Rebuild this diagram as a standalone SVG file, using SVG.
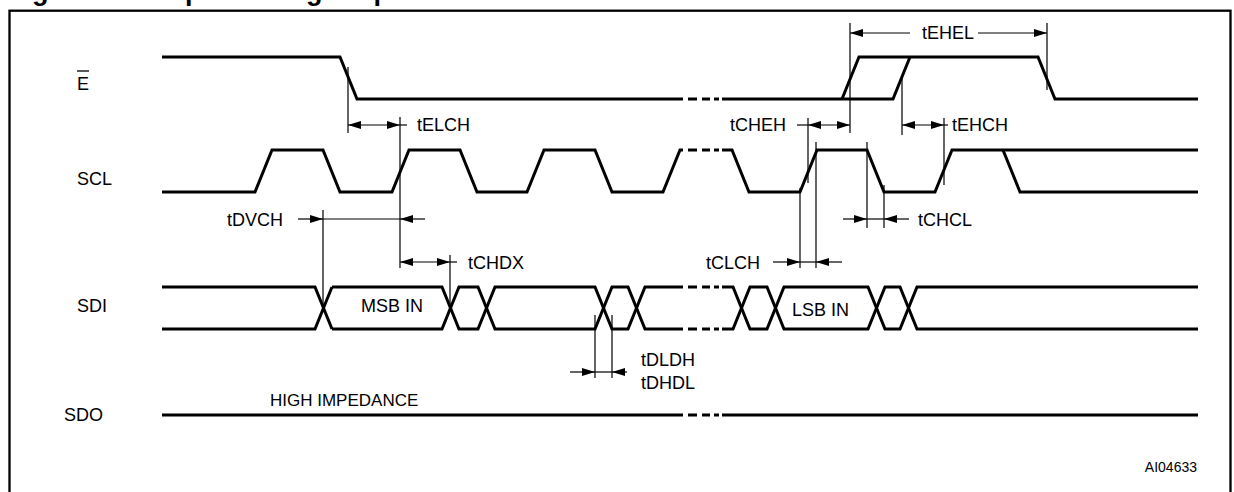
<svg xmlns="http://www.w3.org/2000/svg" width="1234" height="492" viewBox="0 0 1234 492">
<style>
.sig{fill:none;stroke:#000;stroke-width:3;stroke-linejoin:miter}
.brk{fill:none;stroke:#000;stroke-width:3;stroke-dasharray:0 5 9 5 8 4 5 10}
.dim{fill:none;stroke:#000;stroke-width:1.2}
.lbl{font-family:"Liberation Sans",Arial,sans-serif;font-size:18px;fill:#000}
.sm{font-family:"Liberation Sans",Arial,sans-serif;font-size:14px;fill:#000}
.ttl{font-family:"Liberation Sans",Arial,sans-serif;font-size:27px;font-weight:bold;fill:#000}
</style>
<defs>
<marker id="a" viewBox="0 0 13 8" refX="13" refY="4" markerWidth="13" markerHeight="8" markerUnits="userSpaceOnUse" orient="auto-start-reverse">
<path d="M0,0 L13,4 L0,8 Z" fill="#000"/>
</marker>
</defs>
<rect width="1234" height="492" fill="#fff"/>
<text class="ttl" y="0"><tspan x="8">Figure 10.</tspan><tspan x="161">Input Timing Requirements</tspan></text>
<rect x="9.5" y="10.7" width="1221" height="500" fill="none" stroke="#000" stroke-width="2.3"/>

<g id="labels">
<text class="lbl" x="77" y="90">E</text>
<line x1="77" y1="71" x2="89" y2="71" stroke="#000" stroke-width="1.3"/>
<text class="lbl" x="77" y="185">SCL</text>
<text class="lbl" x="77" y="312">SDI</text>
<text class="lbl" x="64" y="421">SDO</text>
</g>

<g id="sig-E">
<path class="sig" d="M162,57 H340 L357,99 H683"/>
<path class="brk" d="M683,99 H723"/>
<path class="sig" d="M722,99 H893 L910,57"/>
<path class="sig" d="M842,99 L859,57 H1038 L1055,99 H1198"/>
</g>

<g id="sig-SCL">
<path class="sig" d="M162,192 H255 L272,150 H323 L340,192 H392 L409,150 H460 L477,192 H527 L544,150 H595 L612,192 H663 L680,150 H683"/>
<path class="brk" d="M683,150 H723"/>
<path class="sig" d="M722,150 H732 L749,192 H800 L817,150 H867 L884,192 H935 L952,150 H1198"/>
<path class="sig" d="M1003,150 L1020,192 H1198"/>
</g>

<g id="sig-SDI">
<path class="sig" d="M162,287 H315 L332,329 M162,329 H315 L332,287"/>
<path class="sig" d="M332,287 H442 L459,329 H478 L495,287 H595 L612,329 H628 L645,287 H683"/>
<path class="sig" d="M332,329 H442 L459,287 H478 L495,329 H595 L612,287 H628 L645,329 H683"/>
<path class="brk" d="M683,287 H723 M683,329 H723"/>
<path class="sig" d="M722,287 H733 L750,329 H767 L784,287 H868 L885,329 H900 L917,287 H1198"/>
<path class="sig" d="M722,329 H733 L750,287 H767 L784,329 H868 L885,287 H900 L917,329 H1198"/>
<text class="lbl" x="361" y="312">MSB IN</text>
<text class="lbl" x="792" y="316">LSB IN</text>
</g>

<g id="sig-SDO">
<path class="sig" d="M162,415 H683"/>
<path class="brk" d="M683,415 H723"/>
<path class="sig" d="M722,415 H1198"/>
<text class="lbl" x="270" y="406" style="font-size:17px">HIGH IMPEDANCE</text>
</g>

<g id="connectors">
<path class="dim" d="M348,67 V133 M400,117 V268 M850,23 V133 M1047,23 V90 M808,118 V183 M902,78 V135 M944,118 V185 M323,210 V308 M450,255 V308 M867,142 V228 M884,185 V228 M800,188 V268 M816,142 V268 M595,315 V378 M612,315 V378"/>
<path class="dim" d="M348,125 H400" marker-start="url(#a)" marker-end="url(#a)"/>
<path class="dim" d="M400,125 H407"/>
<path class="dim" d="M797,125 H808"/>
<path class="dim" d="M808,125 H850" marker-start="url(#a)" marker-end="url(#a)"/>
<path class="dim" d="M910,33 H850" marker-end="url(#a)"/>
<path class="dim" d="M978,33 H1047" marker-end="url(#a)"/>
<path class="dim" d="M902,125 H944" marker-start="url(#a)" marker-end="url(#a)"/>
<path class="dim" d="M944,125 H948"/>
<path class="dim" d="M298,219 H323" marker-end="url(#a)"/>
<path class="dim" d="M323,219 H400"/>
<path class="dim" d="M425,219 H400" marker-end="url(#a)"/>
<path class="dim" d="M400,262 H450" marker-start="url(#a)" marker-end="url(#a)"/>
<path class="dim" d="M450,262 H457"/>
<path class="dim" d="M843,219 H867" marker-end="url(#a)"/>
<path class="dim" d="M867,219 H884"/>
<path class="dim" d="M909,219 H884" marker-end="url(#a)"/>
<path class="dim" d="M773,262 H800" marker-end="url(#a)"/>
<path class="dim" d="M800,262 H816"/>
<path class="dim" d="M842,262 H816" marker-end="url(#a)"/>
<path class="dim" d="M570,372 H595" marker-end="url(#a)"/>
<path class="dim" d="M595,372 H612"/>
<path class="dim" d="M627,372 H612" marker-end="url(#a)"/>
</g>

<g id="timing-labels">
<text class="lbl" x="417" y="131">tELCH</text>
<text class="lbl" x="730" y="131">tCHEH</text>
<text class="lbl" x="922" y="39">tEHEL</text>
<text class="lbl" x="952" y="131">tEHCH</text>
<text class="lbl" x="227" y="226">tDVCH</text>
<text class="lbl" x="468" y="269">tCHDX</text>
<text class="lbl" x="918" y="226">tCHCL</text>
<text class="lbl" x="706" y="269">tCLCH</text>
<text class="lbl" x="641" y="366">tDLDH</text>
<text class="lbl" x="641" y="389">tDHDL</text>
<text class="sm" x="1197" y="472" text-anchor="end">AI04633</text>
</g>
</svg>
